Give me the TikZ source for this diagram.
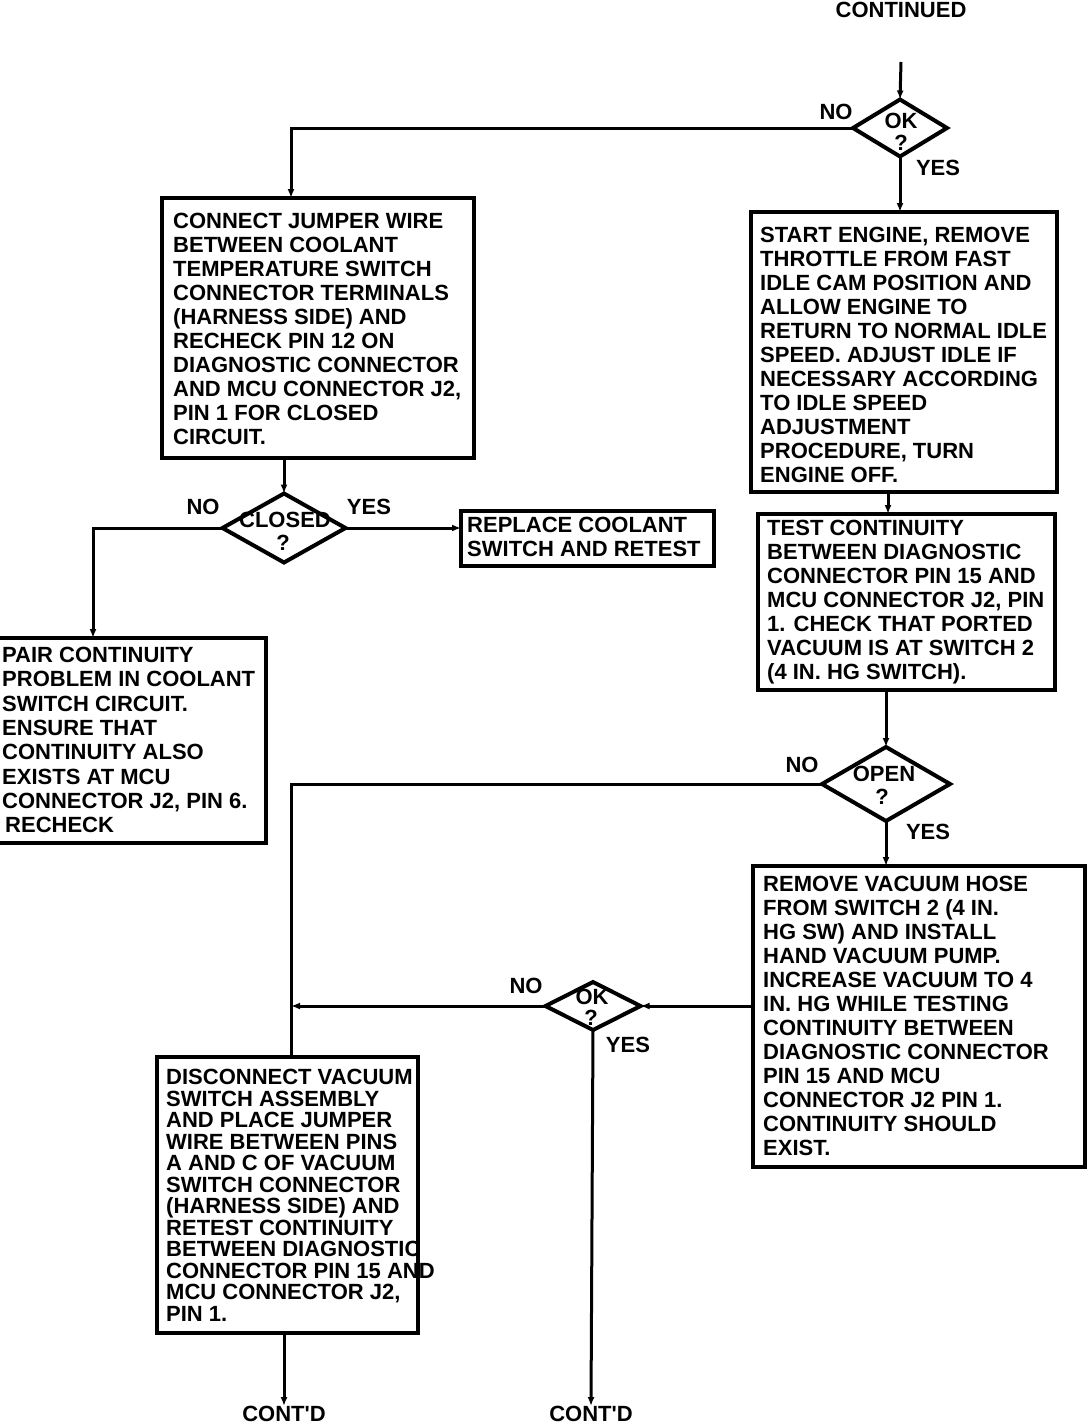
\documentclass[tikz,border=0pt]{standalone}
\usepackage{fontspec}
\setmainfont{Liberation Sans}
\newfontfamily\plainfnt{Liberation Sans}
\usetikzlibrary{shapes.geometric,arrows.meta}
\begin{document}
\begin{tikzpicture}[x=1pt,y=-1pt,
 box/.style={draw,line width=3.5pt,inner sep=0pt,outer sep=0pt,anchor=north west},
 txt/.style={anchor=north west,inner sep=0pt,align=left,font=\bfseries\fontsize{22}{24}\selectfont},
 lbl/.style={inner sep=0pt,font=\bfseries\fontsize{22}{24}\selectfont},
 dia/.style={draw,diamond,line width=4pt,inner sep=0pt,outer sep=0pt},
 con/.style={line width=3pt},
 arr/.style={con,-{Latex[length=9pt,width=7pt]}}]
\useasboundingbox (0,0) rectangle (1088,1424);

% boxes
\node[box,minimum width=312pt,minimum height=260pt] (b1) at (162,198) {};
\node[box,minimum width=306pt,minimum height=280pt] (b2) at (751,212) {};
\node[box,minimum width=297pt,minimum height=176pt] (b3) at (758,514) {};
\node[box,minimum width=253pt,minimum height=55pt] (b4) at (461,511) {};
\node[box,minimum width=332pt,minimum height=301pt] (b5) at (753,866) {};
\node[box,minimum width=261pt,minimum height=276pt] (b6) at (157,1057) {};
\node[box,minimum width=276pt,minimum height=205pt] (b7) at (-10,638) {};

% box texts
\node[txt] (t1) at (173,213) {CONNECT JUMPER WIRE\\BETWEEN COOLANT\\TEMPERATURE SWITCH\\CONNECTOR TERMINALS\\(HARNESS SIDE) AND\\RECHECK PIN 12 ON\\DIAGNOSTIC CONNECTOR\\AND MCU CONNECTOR J2,\\PIN 1 FOR CLOSED\\CIRCUIT.};
\node[txt] (t2) at (760,227) {START ENGINE, REMOVE\\THROTTLE FROM FAST\\IDLE CAM POSITION AND\\ALLOW ENGINE TO\\RETURN TO NORMAL IDLE\\SPEED. ADJUST IDLE IF\\NECESSARY ACCORDING\\TO IDLE SPEED\\ADJUSTMENT\\PROCEDURE, TURN\\ENGINE OFF.};
\node[txt] (t3) at (767,520) {TEST CONTINUITY\\BETWEEN DIAGNOSTIC\\CONNECTOR PIN 15 AND\\MCU CONNECTOR J2, PIN\\1. CHECK THAT PORTED\\VACUUM IS AT SWITCH 2\\(4 IN. HG SWITCH).};
\node[txt] (t4) at (467,517) {REPLACE COOLANT\\SWITCH AND RETEST};
\node[txt] (t5) at (763,876) {REMOVE VACUUM HOSE\\FROM SWITCH 2 (4 IN.\\HG SW) AND INSTALL\\HAND VACUUM PUMP.\\INCREASE VACUUM TO 4\\IN. HG WHILE TESTING\\CONTINUITY BETWEEN\\DIAGNOSTIC CONNECTOR\\PIN 15 AND MCU\\CONNECTOR J2 PIN 1.\\CONTINUITY SHOULD\\EXIST.};
\node[txt,font=\bfseries\fontsize{22}{21.5}\selectfont] (t6) at (166,1069) {DISCONNECT VACUUM\\SWITCH ASSEMBLY\\AND PLACE JUMPER\\WIRE BETWEEN PINS\\A AND C OF VACUUM\\SWITCH CONNECTOR\\(HARNESS SIDE) AND\\RETEST CONTINUITY\\BETWEEN DIAGNOSTIC\\CONNECTOR PIN 15 AND\\MCU CONNECTOR J2,\\PIN 1.};
\node[txt,font=\bfseries\fontsize{22}{24.3}\selectfont] (t7) at (2,647) {PAIR CONTINUITY\\PROBLEM IN COOLANT\\SWITCH CIRCUIT.\\ENSURE THAT\\CONTINUITY ALSO\\EXISTS AT MCU\\CONNECTOR J2, PIN 6.\\\hspace*{3pt}RECHECK};

% diamonds
\node[dia,minimum width=94pt,minimum height=57pt] (d1) at (900,128) {};
\node[dia,minimum width=123pt,minimum height=69pt] (d2) at (284,528) {};
\node[dia,minimum width=128pt,minimum height=74pt] (d3) at (886,784) {};
\node[dia,minimum width=95pt,minimum height=48pt] (d4) at (593,1006) {};
\node[lbl] (d1a) at (901,121) {OK};
\node[lbl] (d1b) at (901,143) {?};
\node[lbl] (d2a) at (285,520) {CLOSED};
\node[lbl] (d2b) at (283,543) {?};
\node[lbl] (d3a) at (884,774) {OPEN};
\node[lbl] (d3b) at (882,797) {?};
\node[lbl] (d4a) at (592,997) {OK};
\node[lbl] (d4b) at (591,1018) {?};

% labels
\node[lbl] (top) at (901,10) {CONTINUED};
\node[lbl] (c1) at (284,1414) {CONT{\plainfnt\bfseries '}D};
\node[lbl] (c2) at (591,1414) {CONT{\plainfnt\bfseries '}D};
\node[lbl] (n1) at (836,112) {NO};
\node[lbl] (y1) at (938,168) {YES};
\node[lbl] (n2) at (203,507) {NO};
\node[lbl] (y2) at (369,507) {YES};
\node[lbl] (n3) at (802,765) {NO};
\node[lbl] (y3) at (928,832) {YES};
\node[lbl] (n4) at (526,986) {NO};
\node[lbl] (y4) at (628,1045) {YES};

\coordinate (st) at (901,62);
\coordinate (vl) at ([xshift=3.5pt]b6.north);

% connectors
\draw[arr] (st) -- (d1.north);
\draw[arr] (d1.west) -| ([xshift=-27pt]b1.north);
\draw[arr] (d1.south) -- (d1.south |- b2.north);
\draw[arr] (d2.north |- b1.south) -- (d2.north);
\draw[arr] (d2.east) -- (d2.east -| b4.west);
\draw[arr] (d2.west) -| ([xshift=-35pt]b7.north);
\draw[arr] ([xshift=-16pt]b2.south) -- ([xshift=-16pt]b2.south |- b3.north);
\draw[arr] (d3.north |- b3.south) -- (d3.north);
\draw[arr] (d3.south) -- (d3.south |- b5.north);
\draw[con] (d3.west) -| (vl);
\draw[arr] (b5.west |- d4.east) -- (d4.east);
\draw[arr] (d4.west) -- (d4.west -| vl);
\draw[arr] (c1.north |- b6.south) -- (c1.north);
\draw[arr] (d4.south) -- (c2.north);
\end{tikzpicture}
\end{document}
